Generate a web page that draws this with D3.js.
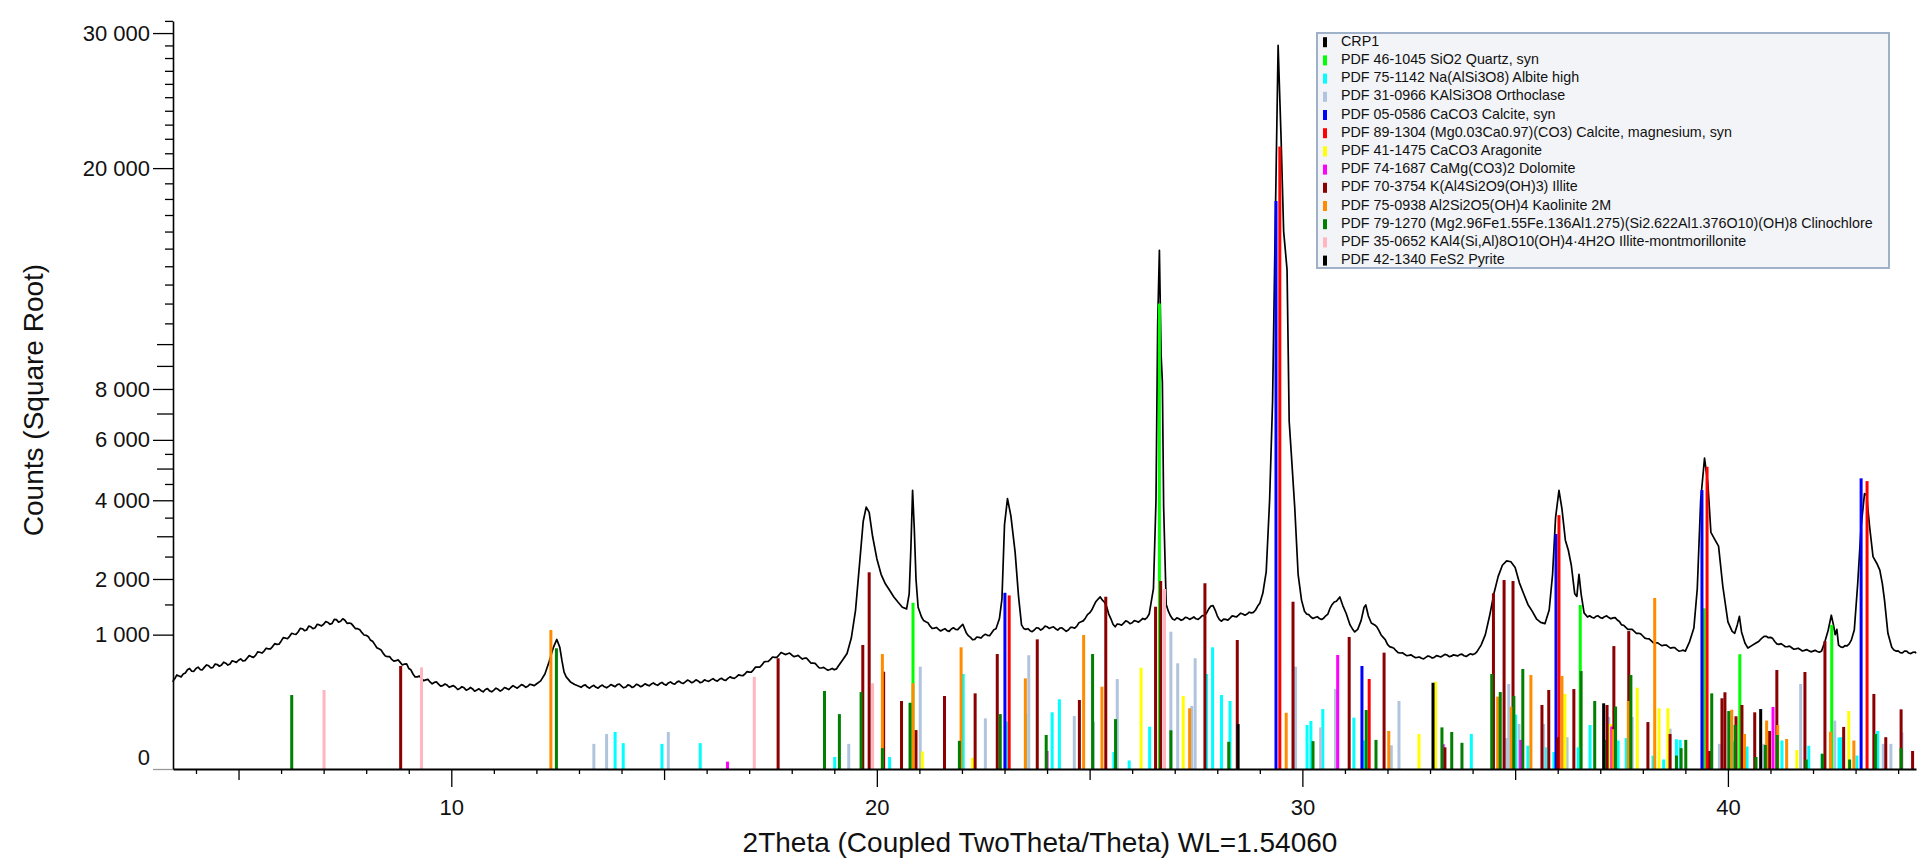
<!DOCTYPE html>
<html><head><meta charset="utf-8">
<script src="https://cdn.jsdelivr.net/npm/d3@7"></script>
<style>
body{margin:0;background:#fff}
svg{display:block}
text{font-family:"Liberation Sans",Arial,sans-serif;fill:#111}
</style>
</head><body>
<svg id="chart" width="1925" height="863"></svg>
<script>
// ---------- DATA ----------
// measured scan CRP1: [2theta, counts]
const scan = [
[3.46,420],[3.5,450],[3.6,480],[3.7,500],[3.8,545],[3.9,530],[4.0,560],[4.1,548],[4.2,575],[4.3,590],[4.4,572],[4.5,605],[4.6,598],[4.7,620],[4.8,610],[4.9,640],
[5.0,655],[5.1,648],[5.2,680],[5.3,700],[5.4,715],[5.5,755],[5.6,770],[5.7,800],[5.8,830],[5.9,860],[6.0,905],[6.1,950],[6.2,975],[6.3,1010],[6.4,1040],[6.5,1090],
[6.6,1070],[6.7,1120],[6.8,1105],[6.9,1150],[7.0,1160],[7.1,1190],[7.2,1175],[7.3,1235],[7.4,1210],[7.5,1225],[7.6,1180],[7.7,1130],[7.8,1090],[7.9,1030],[8.0,990],
[8.1,920],[8.2,860],[8.3,800],[8.4,740],[8.5,700],[8.6,665],[8.7,650],[8.8,630],[8.9,610],[9.0,560],[9.1,500],[9.2,470],[9.3,455],[9.4,440],[9.5,420],[9.6,415],
[9.7,400],[9.8,385],[9.9,390],[10.0,378],[10.1,370],[10.2,360],[10.3,365],[10.4,352],[10.5,355],[10.6,345],[10.7,340],[10.8,350],[10.9,338],[11.0,345],[11.1,352],
[11.2,348],[11.3,360],[11.4,368],[11.5,372],[11.6,378],[11.7,385],[11.8,380],[11.9,392],[12.0,400],[12.1,430],[12.2,500],[12.3,640],[12.4,820],[12.48,930],[12.55,820],
[12.6,650],[12.65,520],[12.7,470],[12.8,420],[12.9,395],[13.0,380],[13.1,385],[13.2,372],[13.3,378],[13.4,370],[13.5,380],[13.6,374],[13.7,378],[13.8,385],[13.9,395],
[14.0,380],[14.1,372],[14.2,385],[14.3,378],[14.4,390],[14.5,385],[14.6,392],[14.7,400],[14.8,395],[14.9,405],[15.0,398],[15.1,410],[15.2,405],[15.3,418],[15.4,412],
[15.5,420],[15.6,428],[15.7,422],[15.8,430],[15.9,420],[16.0,432],[16.1,440],[16.2,436],[16.3,445],[16.4,440],[16.5,455],[16.6,460],[16.7,470],[16.8,485],[16.9,500],
[17.0,520],[17.1,545],[17.2,575],[17.3,600],[17.4,640],[17.5,665],[17.6,690],[17.7,720],[17.8,740],[17.9,735],[18.0,720],[18.1,705],[18.2,690],[18.3,680],[18.4,650],
[18.5,620],[18.6,590],[18.7,565],[18.8,555],[18.9,548],[19.0,545],[19.1,590],[19.2,660],[19.3,740],[19.4,950],[19.5,1400],[19.6,2400],[19.68,3400],[19.75,3800],
[19.82,3650],[19.9,3000],[20.0,2450],[20.1,2100],[20.2,1900],[20.3,1770],[20.4,1640],[20.5,1540],[20.6,1450],[20.7,1420],[20.76,1700],[20.8,2700],[20.84,4300],
[20.88,3200],[20.92,2000],[20.97,1450],[21.05,1280],[21.15,1200],[21.25,1130],[21.35,1100],[21.45,1080],[21.55,1075],[21.65,1060],[21.75,1085],[21.85,1080],
[21.95,1110],[22.02,1160],[22.1,1030],[22.2,960],[22.3,930],[22.4,960],[22.5,985],[22.6,990],[22.7,1030],[22.8,1090],[22.88,1250],[22.94,1600],[23.0,3300],
[23.07,4050],[23.15,3550],[23.25,2600],[23.33,1650],[23.4,1150],[23.5,1080],[23.6,1060],[23.7,1070],[23.8,1100],[23.9,1090],[24.0,1120],[24.1,1110],[24.2,1090],
[24.3,1100],[24.4,1075],[24.5,1070],[24.6,1110],[24.7,1130],[24.8,1200],[24.9,1260],[25.0,1350],[25.1,1480],[25.2,1600],[25.25,1640],[25.3,1580],[25.4,1460],
[25.5,1250],[25.6,1120],[25.7,1160],[25.8,1180],[25.9,1200],[26.0,1185],[26.1,1210],[26.2,1225],[26.3,1240],[26.4,1330],[26.5,1800],[26.56,4000],[26.6,11000],
[26.64,14900],[26.68,9500],[26.71,8300],[26.74,3800],[26.8,1500],[26.9,1300],[27.0,1230],[27.1,1250],[27.2,1240],[27.3,1265],[27.4,1258],[27.5,1250],[27.6,1270],
[27.7,1300],[27.8,1420],[27.9,1480],[28.0,1300],[28.1,1210],[28.2,1240],[28.3,1260],[28.4,1290],[28.5,1310],[28.6,1330],[28.7,1330],[28.8,1350],[28.9,1400],
[29.0,1520],[29.07,1710],[29.15,2150],[29.23,4000],[29.3,7500],[29.36,16000],[29.43,29000],[29.5,22000],[29.56,16000],[29.6,14900],[29.64,13800],[29.69,6700],
[29.74,5500],[29.82,3800],[29.9,2100],[29.98,1580],[30.05,1380],[30.1,1330],[30.2,1280],[30.3,1270],[30.4,1255],[30.5,1260],[30.6,1330],[30.7,1500],[30.8,1560],
[30.88,1640],[30.95,1480],[31.03,1340],[31.12,1150],[31.23,1040],[31.3,1080],[31.38,1220],[31.45,1450],[31.49,1490],[31.55,1300],[31.62,1180],[31.7,1150],
[31.8,1060],[31.9,960],[32.0,860],[32.1,820],[32.2,775],[32.3,745],[32.4,730],[32.5,715],[32.6,705],[32.7,690],[32.8,680],[32.9,690],[33.0,700],[33.1,690],
[33.2,705],[33.3,710],[33.4,720],[33.5,705],[33.6,715],[33.7,725],[33.8,710],[33.9,720],[34.0,725],[34.1,760],[34.2,850],[34.3,1000],[34.4,1300],[34.5,1700],
[34.6,2050],[34.7,2300],[34.8,2400],[34.9,2380],[35.0,2250],[35.1,1920],[35.2,1700],[35.3,1500],[35.4,1380],[35.5,1250],[35.6,1190],[35.7,1170],[35.8,1400],
[35.88,2100],[35.95,3500],[36.03,4300],[36.1,3750],[36.18,2900],[36.25,2650],[36.32,2300],[36.4,1700],[36.45,1650],[36.5,2100],[36.55,1700],[36.62,1350],
[36.7,1280],[36.8,1275],[36.9,1290],[37.0,1270],[37.1,1285],[37.2,1270],[37.3,1265],[37.4,1230],[37.5,1150],[37.6,1110],[37.7,1080],[37.8,1050],[37.9,1020],
[38.0,980],[38.1,940],[38.2,910],[38.3,880],[38.4,860],[38.5,850],[38.6,830],[38.7,815],[38.8,790],[38.9,775],[39.0,770],[39.1,900],[39.2,1100],[39.28,1800],
[39.36,4000],[39.45,5350],[39.53,4500],[39.6,3100],[39.7,2900],[39.78,2750],[39.88,1850],[40.0,1200],[40.1,1050],[40.16,1020],[40.22,1150],[40.27,1290],
[40.32,1040],[40.4,880],[40.47,810],[40.55,840],[40.66,880],[40.8,950],[40.9,975],[41.0,960],[41.1,900],[41.2,860],[41.3,850],[41.4,830],[41.5,815],[41.6,800],
[41.7,790],[41.8,780],[41.9,775],[42.0,770],[42.1,765],[42.2,770],[42.28,900],[42.35,1050],[42.43,1310],[42.48,1150],[42.52,1000],[42.56,1080],[42.6,850],
[42.7,820],[42.8,840],[42.9,920],[42.97,1070],[43.05,1900],[43.13,3250],[43.21,4200],[43.26,4150],[43.33,3250],[43.41,2500],[43.5,2340],[43.57,2190],[43.63,1900],
[43.68,1580],[43.76,1020],[43.85,820],[43.95,770],[44.05,750],[44.15,770],[44.25,745],[44.35,755],[44.42,740]
];
// additional scan points read between the ones above (counting noise of the background)
const scanDetail = [
[3.48,445],[3.55,490],[3.65,470],[3.75,510],[3.85,560],[3.95,528],[4.05,575],[4.15,545],[4.25,600],[4.35,565],[4.45,610],[4.55,585],[4.65,632],[4.75,598],
[4.85,648],[4.95,630],[5.05,672],[5.15,650],[5.25,712],[5.35,690],[5.45,760],[5.55,745],[5.65,808],[5.75,800],[5.85,870],[5.95,862],[6.05,955],[6.15,940],
[6.25,1020],[6.35,1005],[6.45,1095],[6.55,1060],[6.65,1130],[6.75,1090],[6.85,1160],[6.95,1135],[7.05,1205],[7.15,1160],[7.25,1240],[7.35,1195],[7.45,1250],
[7.55,1175],[7.65,1170],[7.75,1090],[7.85,1075],[7.95,995],[8.05,970],[8.15,905],[8.25,815],[8.35,785],[8.45,708],[8.55,700],[8.65,645],[8.75,660],[8.85,600],
[8.95,612],[9.05,545],[9.15,470],[9.25,478],[9.35,432],[9.45,445],[9.55,402],[9.65,420],[9.75,380],[9.85,400],[9.95,370],[10.05,385],[10.15,350],[10.25,375],
[10.35,345],[10.45,368],[10.55,335],[10.65,356],[10.75,330],[10.85,358],[10.95,330],[11.05,362],[11.15,336],[11.25,368],[11.35,350],[11.45,385],[11.55,362],
[11.65,395],[11.75,370],[11.85,398],[11.95,385],[13.05,370],[13.15,392],[13.25,362],[13.35,388],[13.45,362],[13.55,390],[13.65,365],[13.75,395],[13.85,375],
[13.95,400],[14.05,365],[14.15,392],[14.25,368],[14.35,398],[14.45,375],[14.55,402],[14.65,383],[14.75,410],[14.85,388],[14.95,415],[15.05,390],[15.15,420],
[15.25,398],[15.35,428],[15.45,405],[15.55,438],[15.65,412],[15.75,440],[15.85,412],[15.95,440],[16.05,425],[16.15,452],[16.25,428],[16.35,456],[16.45,435],
[16.55,470],[16.65,455],[16.75,490],[16.85,482],[16.95,525],[17.05,520],[17.15,575],[17.25,575],[17.35,635],[17.45,642],[17.55,695],[17.65,690],[17.75,752],
[17.85,725],[17.95,745],[18.05,700],[18.15,715],[18.25,670],[18.35,680],[18.45,622],[18.55,618],[18.65,565],[18.75,572],[18.85,540],[18.95,560],[19.05,555],
[21.1,1220],[21.2,1185],[21.3,1095],[21.4,1110],[21.5,1055],[21.6,1090],[21.7,1050],[21.8,1105],[21.9,1075],[22.15,985],[22.25,925],[22.35,965],[22.45,950],
[22.55,1005],[22.65,985],[22.75,1075],[23.45,1095],[23.55,1090],[23.65,1045],[23.75,1105],[23.85,1070],[23.95,1130],[24.05,1095],[24.15,1120],[24.25,1070],
[24.35,1105],[24.45,1050],[24.55,1110],[24.65,1100],[24.75,1185],[24.85,1215],[24.95,1320],[25.05,1400],[25.15,1555],[25.35,1540],[25.45,1330],[25.55,1160],
[25.65,1165],[25.75,1145],[25.85,1215],[25.95,1170],[26.05,1220],[26.15,1195],[26.25,1255],[26.35,1270],[26.85,1380],[26.95,1245],[27.05,1265],[27.15,1225],
[27.25,1275],[27.35,1240],[27.45,1280],[27.55,1240],[27.65,1305],[27.75,1350],[27.85,1470],[27.95,1400],[28.05,1235],[28.15,1245],[28.25,1228],[28.35,1298],
[28.45,1280],[28.55,1345],[28.65,1310],[28.75,1362],[28.85,1360],[28.95,1470],[30.15,1320],[30.25,1255],[30.35,1285],[30.45,1238],[30.55,1300],[30.65,1430],
[30.75,1545],[31.17,1095],[31.75,1120],[31.85,995],[31.95,925],[32.05,830],[32.15,808],[32.25,750],[32.35,748],[32.45,712],[32.55,722],[32.65,688],[32.75,695],
[32.85,672],[32.95,708],[33.05,682],[33.15,712],[33.25,695],[33.35,728],[33.45,700],[33.55,722],[33.65,708],[33.75,730],[33.85,702],[33.95,735],[34.05,735],
[36.75,1300],[36.85,1262],[36.95,1300],[37.05,1258],[37.15,1298],[37.25,1250],[37.35,1270],[37.45,1205],[37.55,1145],[37.65,1080],[37.75,1080],[37.85,1020],
[37.95,1012],[38.05,948],[38.15,938],[38.25,882],[38.35,882],[38.45,842],[38.55,852],[38.65,810],[38.75,815],[38.85,770],[38.95,782],[40.73,905],[40.85,975],
[40.95,955],[41.05,945],[41.15,868],[41.25,870],[41.35,828],[41.45,836],[41.55,795],[41.65,808],[41.75,772],[41.85,790],[41.95,760],[42.05,780],[42.15,755],
[42.65,825],[42.75,842],[42.85,868],[43.9,785],[44.0,772],[44.1,748],[44.2,770],[44.3,738],[44.4,758]
];

// reference patterns: [2theta, counts]
const quartz = [[20.85,1530],[26.64,12000],[36.53,1490],[39.44,1430],[40.28,730],[42.44,1150]];
const albite = [[13.85,76],[14.04,37],[14.95,35],[15.85,37],[19.01,8],[20.3,8],[22.03,500],[23.04,124],[23.5,171],[24.12,178],[24.29,269],[25.57,16],[25.93,4],[26.41,99],
  [27.75,500],[27.89,820],[28.1,303],[28.3,256],[30.11,107],[30.2,128],[30.48,199],[31.21,146],[31.44,45],[33.97,68],[35.01,164],[35.3,30],[35.71,26],[35.91,16],
  [36.48,26],[36.76,107],[37.42,45],[37.61,53],[38.24,10],[38.49,5],[38.79,49],[38.88,47],[40.14,42],[40.45,28],[41.27,45],[41.9,30],[42.21,12],[42.61,55],[42.66,56],
  [43.03,10],[43.52,80]];
const orthoclase = [[13.35,35],[13.65,68],[15.1,76],[19.34,35],[21.02,580],[22.55,142],[23.57,717],[24.64,156],[25.09,124],[25.65,448],[26.91,1044],[27.07,619],
  [27.4,220],[27.48,679],[29.84,580],[30.43,96],[30.78,354],[32.09,31],[32.27,256],[34.8,53],[34.85,400],[35.09,112],[35.67,112],[36.22,56],[37.2,150],[37.75,150],
  [38.64,90],[39.8,35],[40.84,35],[41.71,400],[42.51,130],[43.65,35],[43.83,35],[44.09,74]];
const calcite = [[23.01,1720],[29.38,17870],[31.4,588],[35.96,3060],[39.39,4310],[43.13,4680]];
const mgCalcite = [[23.11,1670],[29.47,21460],[31.57,449],[36.03,3570],[39.51,5060],[43.27,4590]];
const aragonite = [[21.07,17],[22.25,7],[26.21,568],[27.2,295],[32.74,68],[33.13,422],[36.17,312],[37.24,112],[37.87,366],[38.38,204],[38.59,204],[41.62,20],[42.84,186]];
const dolomite = [[16.49,3],[24.0,18],[30.83,720],[33.31,34],[35.13,47],[37.27,100],[41.06,213]];
const illite = [[8.81,588],[17.68,679],[19.67,852],[19.82,2143],[20.16,524],[20.58,256],[20.92,84],[21.59,295],[22.31,317],[22.83,732],[23.77,931],[24.76,264],
  [25.38,1644],[26.55,1459],[26.67,1958],[27.71,1911],[28.47,922],[29.78,1550],[31.1,965],[31.92,750],[33.35,26],[34.49,1710],[34.74,1978],[34.95,1958],[35.63,227],
  [35.79,346],[36.0,56],[36.38,354],[37.16,227],[37.32,837],[37.67,1054],[38.12,122],[38.64,68],[39.57,18],[39.86,277],[39.93,326],[40.19,154],[40.33,227],[40.63,178],
  [40.98,80],[41.15,543],[41.81,521],[42.28,907],[42.72,98],[43.43,312],[43.71,56],[44.07,197],[44.34,18]];
const kaolinite = [[12.34,1070],[20.13,732],[20.85,407],[21.98,820],[23.49,455],[24.86,994],[25.29,375],[27.35,204],[29.62,175],[32.03,80],[34.59,290],[34.91,214],
  [35.37,489],[36.1,479],[37.3,88],[37.66,256],[38.28,1620],[40.09,195],[40.39,68],[40.91,130],[41.17,107],[41.38,50],[42.41,77],[42.96,45]];
const clinochlore = [[6.25,303],[12.47,807],[18.77,337],[19.12,167],[19.63,328],[20.13,24],[20.78,243],[21.94,44],[22.9,167],[23.98,64],[25.07,732],[25.61,138],
  [26.91,83],[28.27,41],[30.25,43],[31.5,193],[31.73,47],[33.28,96],[33.51,76],[33.75,38],[34.45,500],[34.65,328],[34.97,295],[35.18,554],[36.55,532],[36.87,256],
  [37.1,47],[37.36,216],[37.72,489],[38.79,10],[38.9,24],[39.01,47],[39.62,317],[40.02,186],[40.17,108],[40.66,8],[40.88,32],[41.16,64],[41.84,5],[42.22,13],
  [42.86,5],[43.47,68],[44.07,24]];
const illiteMont = [[7.01,346],[9.3,572],[17.12,471],[19.9,407],[26.76,1795]];
const pyrite = [[28.49,112],[33.07,412],[37.08,239],[40.77,199]];

const legendLabels = [
  "CRP1",
  "PDF 46-1045 SiO2 Quartz, syn",
  "PDF 75-1142 Na(AlSi3O8) Albite high",
  "PDF 31-0966 KAlSi3O8 Orthoclase",
  "PDF 05-0586 CaCO3 Calcite, syn",
  "PDF 89-1304 (Mg0.03Ca0.97)(CO3) Calcite, magnesium, syn",
  "PDF 41-1475 CaCO3 Aragonite",
  "PDF 74-1687 CaMg(CO3)2 Dolomite",
  "PDF 70-3754 K(Al4Si2O9(OH)3) Illite",
  "PDF 75-0938 Al2Si2O5(OH)4 Kaolinite 2M",
  "PDF 79-1270 (Mg2.96Fe1.55Fe.136Al1.275)(Si2.622Al1.376O10)(OH)8 Clinochlore",
  "PDF 35-0652 KAl4(Si,Al)8O10(OH)4·4H2O Illite-montmorillonite",
  "PDF 42-1340 FeS2 Pyrite"
];
const legendColors = ["#000000","#00ff00","#00ffff","#b0c4de","#0000ff","#ff0000","#ffff00","#ff00ff","#8b0000","#ff8c00","#008000","#ffb6c1","#000000"];
const stickSets = [quartz, albite, orthoclase, calcite, mgCalcite, aragonite, dolomite, illite, kaolinite, clinochlore, illiteMont, pyrite];

const xTickLabels = [10,20,30,40];
const yTickLabels = [0,1000,2000,4000,6000,8000,20000,30000];
const yMediumTicks = [3000,5000,7000,9000,10000];
const yShortTicks = [1500,2500,3500,4500,5500,11000,12000,13000,14000,15000,16000,17000,18000,19000,21000,22000,23000,24000,25000,26000,27000,28000,29000,31000];

// ---------- CHART ----------
const svg = d3.select('#chart');
const x = d3.scaleLinear().domain([3.46, 44.42]).range([173, 1916]);
const y = d3.scaleSqrt().domain([0, 31000]).range([769, 20.9]);

const scanAll = scan.concat(scanDetail).sort((a, b) => a[0] - b[0]);

// scan
svg.append('path').datum(scanAll)
  .attr('d', d3.line().x(d => x(d[0])).y(d => y(d[1])))
  .attr('fill', 'none').attr('stroke', '#000').attr('stroke-width', 1.7).attr('stroke-linejoin', 'round');

// sticks
stickSets.forEach((set, i) => {
  svg.append('g').selectAll('rect').data(set).join('rect')
    .attr('x', d => x(d[0]) - 1.5).attr('width', 3)
    .attr('y', d => y(d[1])).attr('height', d => y(0) - y(d[1]))
    .attr('fill', legendColors[i + 1]);
});

// y axis
const fmt = v => d3.format(',')(v).replace(/,/g, ' ');
const gy = svg.append('g').attr('transform', 'translate(173,0)')
  .call(d3.axisLeft(y).tickValues(yTickLabels).tickSize(20).tickPadding(3).tickSizeOuter(0).tickFormat(fmt));
gy.select('.domain').attr('stroke', '#000').attr('stroke-width', 1.6);
gy.selectAll('.tick line').attr('stroke', '#000').attr('stroke-width', 1.3);
gy.selectAll('.tick text').attr('font-size', 22).attr('fill', '#111');
gy.selectAll('.tick').filter(d => d === 0).select('line').attr('stroke', '#999');
gy.selectAll('.tick').filter(d => d === 0).select('text').attr('dy', '-0.2em');
svg.append('g').attr('transform', 'translate(173,0)')
  .call(d3.axisLeft(y).tickValues(yMediumTicks).tickSize(16).tickFormat(''))
  .call(g => g.select('.domain').remove())
  .selectAll('line').attr('stroke', '#000').attr('stroke-width', 1.3);
svg.append('g').attr('transform', 'translate(173,0)')
  .call(d3.axisLeft(y).tickValues(yShortTicks).tickSize(8).tickFormat(''))
  .call(g => g.select('.domain').remove())
  .selectAll('line').attr('stroke', '#000').attr('stroke-width', 1.3);

// x axis
const xMinor = d3.range(4, 45).filter(v => v % 5 !== 0);
const xMedium = [5, 15, 25, 35];
const gx = svg.append('g').attr('transform', 'translate(0,769)')
  .call(d3.axisBottom(x).tickValues(xTickLabels).tickSize(18).tickPadding(12).tickSizeOuter(0));
gx.select('.domain').attr('stroke', '#000').attr('stroke-width', 2);
gx.selectAll('.tick line').attr('stroke', '#000').attr('stroke-width', 1.3);
gx.selectAll('.tick text').attr('font-size', 22).attr('fill', '#111');
svg.append('g').attr('transform', 'translate(0,769)')
  .call(d3.axisBottom(x).tickValues(xMedium).tickSize(11).tickFormat(''))
  .call(g => g.select('.domain').remove())
  .selectAll('line').attr('stroke', '#000').attr('stroke-width', 1.3);
svg.append('g').attr('transform', 'translate(0,769)')
  .call(d3.axisBottom(x).tickValues(xMinor).tickSize(5).tickFormat(''))
  .call(g => g.select('.domain').remove())
  .selectAll('line').attr('stroke', '#000').attr('stroke-width', 1.3);

// axis titles
svg.append('text').attr('x', 1040).attr('y', 852).attr('text-anchor', 'middle')
  .attr('font-size', 28).text('2Theta (Coupled TwoTheta/Theta) WL=1.54060');
svg.append('text').attr('transform', 'translate(43,400) rotate(-90)').attr('text-anchor', 'middle')
  .attr('font-size', 28).text('Counts (Square Root)');

// legend
const lg = svg.append('g');
lg.append('rect').attr('x', 1317).attr('y', 33).attr('width', 572).attr('height', 235)
  .attr('fill', '#f3f4f7').attr('stroke', '#9fb0c9').attr('stroke-width', 2);
const rows = lg.selectAll('g.row').data(legendLabels).join('g').attr('class', 'row')
  .attr('transform', (d, i) => `translate(0,${40.7 + i * 18.2})`);
rows.append('rect').attr('x', 1323).attr('y', -3.5).attr('width', 4).attr('height', 10)
  .attr('fill', (d, i) => legendColors[i]);
rows.append('text').attr('x', 1341).attr('y', 0).attr('dy', '0.35em').attr('font-size', 14.3).text(d => d);
</script>
</body></html>
